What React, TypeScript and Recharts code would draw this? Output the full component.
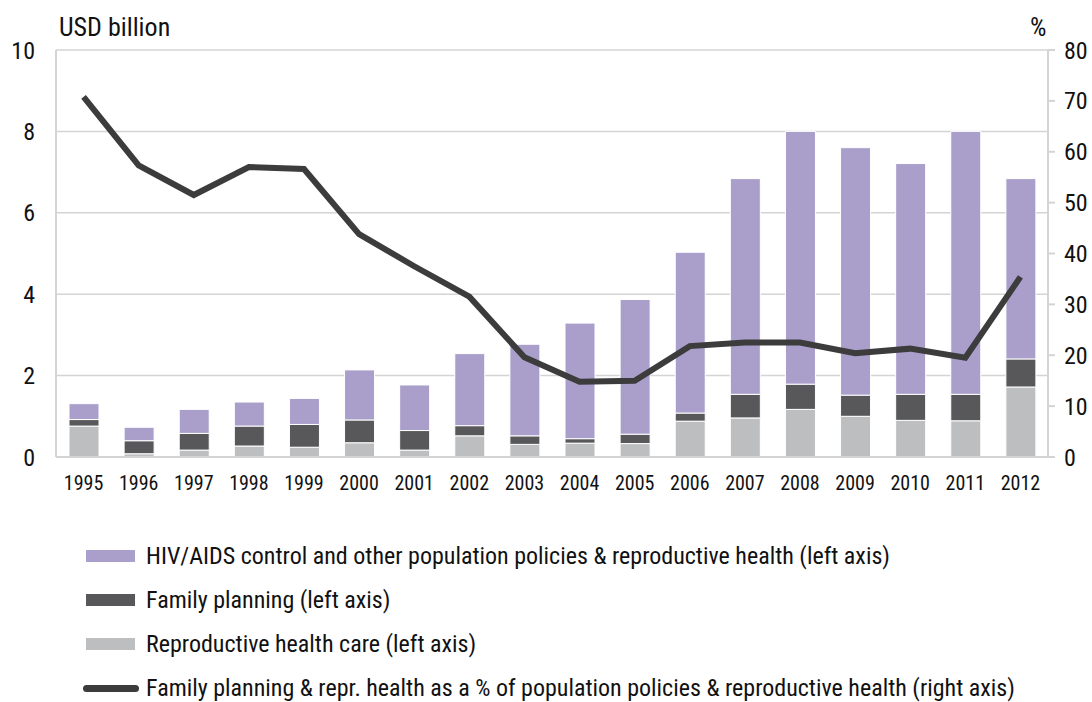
import React from "react";
import { ComposedChart, Bar, Line, XAxis, YAxis, CartesianGrid } from "recharts";

const years = ["1995", "1996", "1997", "1998", "1999", "2000", "2001", "2002", "2003", "2004", "2005", "2006", "2007", "2008", "2009", "2010", "2011", "2012"];
const reproHealth = [0.76, 0.08, 0.17, 0.27, 0.24, 0.35, 0.17, 0.52, 0.31, 0.34, 0.33, 0.88, 0.96, 1.17, 1.0, 0.9, 0.89, 1.72];
const familyPlanning = [0.16, 0.32, 0.41, 0.49, 0.56, 0.56, 0.48, 0.25, 0.21, 0.11, 0.23, 0.2, 0.58, 0.62, 0.52, 0.64, 0.65, 0.69];
const hivOther = [0.39, 0.33, 0.59, 0.59, 0.64, 1.23, 1.12, 1.77, 2.25, 2.84, 3.31, 3.95, 5.3, 6.21, 6.08, 5.67, 6.46, 4.43];
const sharePct = [70.8, 57.3, 51.5, 57.0, 56.6, 43.8, 37.5, 31.5, 19.6, 14.8, 15.0, 21.8, 22.5, 22.5, 20.4, 21.3, 19.5, 35.4];

const leftTicks = [0, 2, 4, 6, 8, 10];
const rightTicks = [0, 10, 20, 30, 40, 50, 60, 70, 80];

const PURPLE = "#a99fca";
const DARK = "#58585a";
const LIGHT = "#bdbec0";
const LINE = "#3c3c3c";
const GRID = "#d4d4d4";
const FONT = '"Liberation Sans Narrow", "Arial Narrow", "Roboto Condensed", sans-serif';

const legendItems = [
  { label: "HIV/AIDS control and other population policies & reproductive health (left axis)", color: PURPLE, kind: "bar" },
  { label: "Family planning (left axis)", color: DARK, kind: "bar" },
  { label: "Reproductive health care (left axis)", color: LIGHT, kind: "bar" },
  { label: "Family planning & repr. health as a % of population policies & reproductive health (right axis)", color: LINE, kind: "line" },
];

const data = years.map((year, i) => ({
  year,
  repro: reproHealth[i],
  fp: familyPlanning[i],
  hiv: hivOther[i],
  share: sharePct[i],
}));

export default function App() {
  return (
    <div style={{ position: "absolute", left: 0, top: 0, width: 1092, height: 702, overflow: "hidden", background: "#fff", fontFamily: FONT, color: "#111" }}>
      <div style={{ position: "absolute", left: 59, top: 12, fontSize: 26, lineHeight: "30px" }}>USD billion</div>
      <div style={{ position: "absolute", left: 1030, top: 12, fontSize: 26, lineHeight: "30px" }}>%</div>

      <ComposedChart width={1092} height={520} data={data} margin={{ top: 50, right: 0, bottom: 23, left: 0 }} barSize={30}>
        <CartesianGrid yAxisId="left" vertical={false} stroke={GRID} strokeWidth={1.5} />
        <XAxis
          dataKey="year"
          tickLine={false}
          axisLine={{ stroke: GRID, strokeWidth: 2 }}
          tick={{ fontSize: 20, fill: "#111", fontFamily: FONT }}
          tickMargin={13}
          height={40}
          interval={0}
        />
        <YAxis
          yAxisId="left"
          domain={[0, 10]}
          ticks={leftTicks}
          tickLine={false}
          axisLine={{ stroke: GRID, strokeWidth: 2 }}
          tick={{ fontSize: 24, fill: "#111", fontFamily: FONT }}
          tickMargin={15}
          width={56}
        />
        <YAxis
          yAxisId="right"
          orientation="right"
          domain={[0, 80]}
          ticks={rightTicks}
          tickLine={{ stroke: GRID, strokeWidth: 2 }}
          tickSize={7}
          axisLine={{ stroke: GRID, strokeWidth: 2 }}
          tick={{ fontSize: 24, fill: "#111", fontFamily: FONT }}
          tickMargin={9}
          width={44}
        />
        <Bar yAxisId="left" dataKey="repro" stackId="a" fill={LIGHT} stroke="#fff" strokeWidth={1} isAnimationActive={false} />
        <Bar yAxisId="left" dataKey="fp" stackId="a" fill={DARK} stroke="#fff" strokeWidth={1} isAnimationActive={false} />
        <Bar yAxisId="left" dataKey="hiv" stackId="a" fill={PURPLE} stroke="#fff" strokeWidth={1} isAnimationActive={false} />
        <Line yAxisId="right" dataKey="share" stroke={LINE} strokeWidth={6} dot={false} type="linear" isAnimationActive={false} />
      </ComposedChart>

      {legendItems.map((item, i) => (
        <div key={item.label} style={{ position: "absolute", left: 83, top: 543 + i * 44, height: 26, display: "flex", alignItems: "center", fontSize: 24, lineHeight: "26px", whiteSpace: "nowrap" }}>
          {item.kind === "bar" ? (
            <span style={{ display: "inline-block", width: 49, height: 12, marginLeft: 3, marginRight: 11, background: item.color }} />
          ) : (
            <span style={{ display: "inline-block", width: 56, height: 7, marginRight: 7, borderRadius: 4, background: item.color }} />
          )}
          <span>{item.label}</span>
        </div>
      ))}
    </div>
  );
}
